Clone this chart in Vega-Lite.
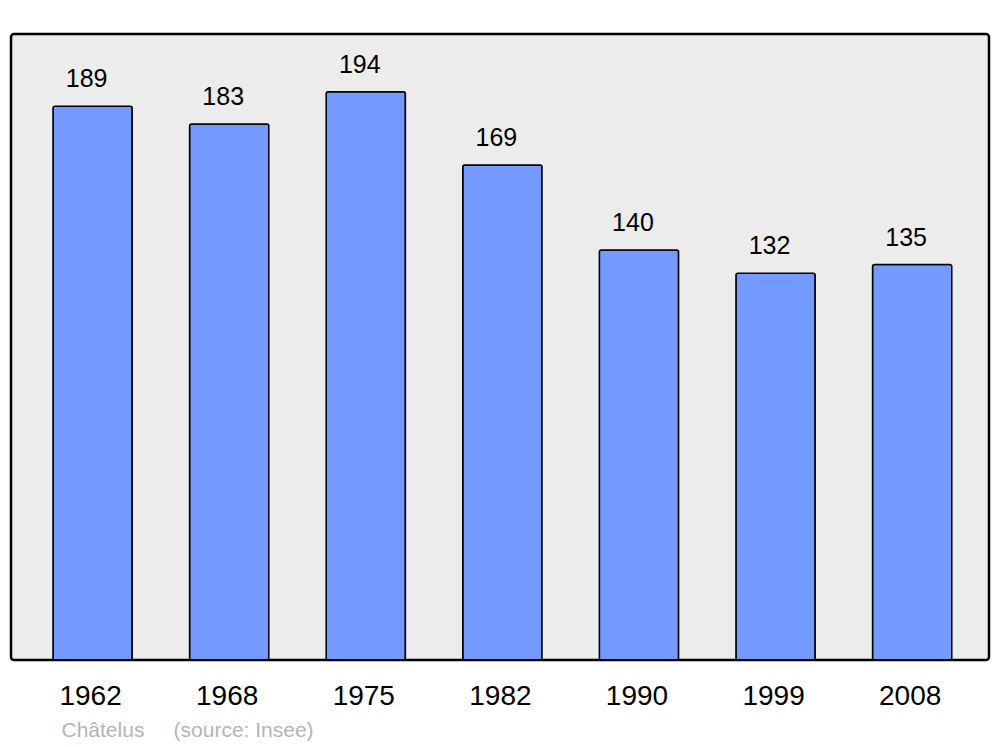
{
  "$schema": "https://vega.github.io/schema/vega-lite/v6.json",
  "width": 978,
  "height": 626,
  "autosize": {"type": "none"},
  "padding": {"left": 11, "top": 34, "right": 11, "bottom": 87},
  "background": "#ffffff",
  "config": {
    "view": {"fill": "#ececec", "stroke": "#000000", "strokeWidth": 2.5, "cornerRadius": 3},
    "font": "Liberation Sans"
  },
  "data": {
    "values": [
      {"year": "1962", "pop": 189},
      {"year": "1968", "pop": 183},
      {"year": "1975", "pop": 194},
      {"year": "1982", "pop": 169},
      {"year": "1990", "pop": 140},
      {"year": "1999", "pop": 132},
      {"year": "2008", "pop": 135}
    ]
  },
  "encoding": {
    "x": {
      "field": "year",
      "type": "ordinal",
      "sort": null,
      "scale": {"paddingInner": 0.42, "paddingOuter": 0.29, "align": 0.53},
      "axis": {
        "title": "Châtelus\u00a0\u00a0\u00a0\u00a0\u00a0(source: Insee)",
        "titleFont": "Liberation Sans",
        "titleFontSize": 21,
        "titleFontWeight": "normal",
        "titleColor": "#b4b4b4",
        "titleAnchor": "start",
        "titleAlign": "left",
        "titleX": 50,
        "titlePadding": 9,
        "labelAngle": 0,
        "labelFont": "Liberation Sans",
        "labelFontSize": 28,
        "labelColor": "#000000",
        "labelPadding": 22,
        "labelOffset": -2,
        "ticks": false,
        "domain": false,
        "grid": false
      }
    },
    "y": {
      "field": "pop",
      "type": "quantitative",
      "scale": {"domain": [0, 213.7], "nice": false, "zero": true},
      "axis": null
    }
  },
  "layer": [
    {
      "mark": {"type": "bar", "fill": "#7499ff", "stroke": "#000000", "strokeWidth": 1.5, "cornerRadius": 2}
    },
    {
      "mark": {"type": "text", "baseline": "alphabetic", "dy": -19, "dx": -6, "fontSize": 25, "font": "Liberation Sans", "color": "#000000"},
      "encoding": {"text": {"field": "pop", "type": "quantitative"}}
    }
  ]
}
